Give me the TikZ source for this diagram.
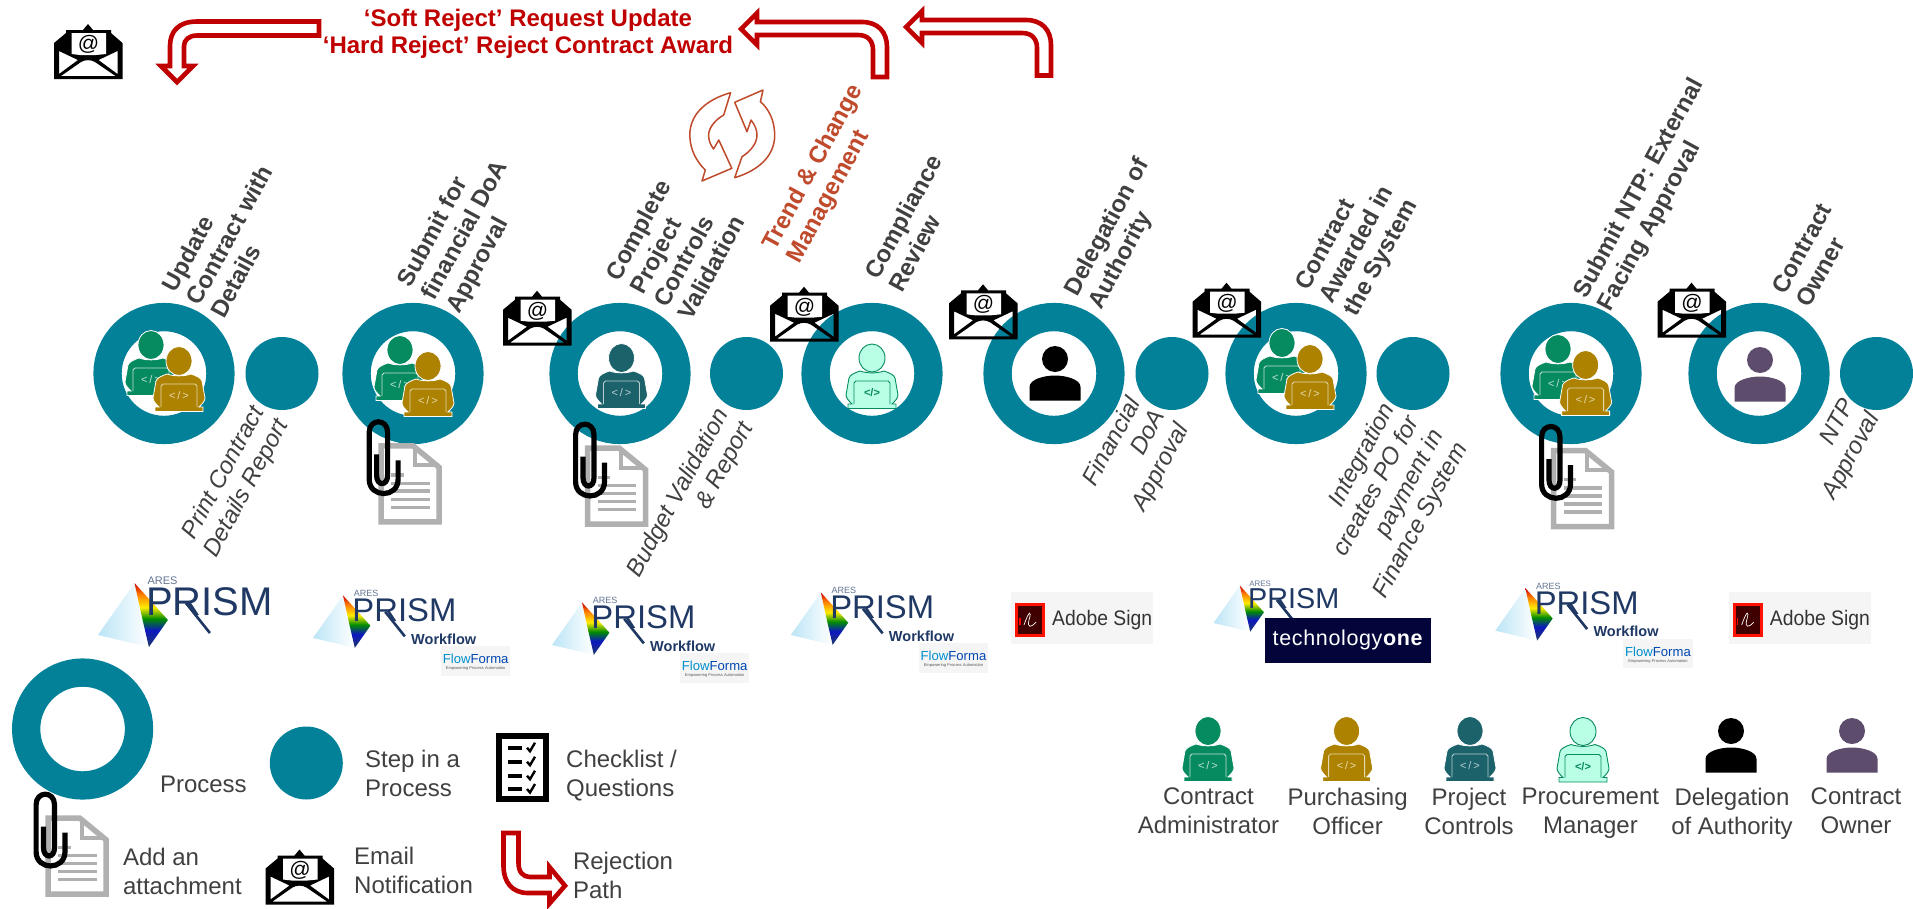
\documentclass[tikz,border=0pt]{standalone}
\usepackage{fontspec}
\setmainfont{Liberation Sans}
\definecolor{ringteal}{HTML}{038199}
\definecolor{pgreen}{HTML}{068A5F}
\definecolor{pgold}{HTML}{AD8200}
\definecolor{pteal}{HTML}{1B626B}
\definecolor{pmint}{HTML}{B9FFE5}
\definecolor{ppurple}{HTML}{5D4C6B}
\definecolor{txtgray}{HTML}{404040}
\definecolor{rejred}{HTML}{C00000}
\definecolor{trendred}{HTML}{BF4A2C}
\definecolor{docgray}{HTML}{B0B0B0}
\definecolor{prismnavy}{HTML}{1F3864}
\definecolor{logobg}{HTML}{F5F5F5}
\definecolor{techblue}{HTML}{02043A}
\definecolor{prismsky}{HTML}{BCE5F6}
\pgfdeclareverticalshading{prismrainbow}{100bp}{color(0bp)=(prismnavy); color(25bp)=(prismnavy); color(38bp)=(blue!60!prismnavy); color(47bp)=(green!55!black); color(56bp)=(yellow!85!orange); color(66bp)=(orange); color(75bp)=(red!80!black); color(100bp)=(red!80!black)}
\tikzset{
  x=1pt,y=-1pt,
  ringnode/.style={circle,draw=ringteal,line width=28.3pt,minimum size=112.9pt,inner sep=0},
  stepnode/.style={circle,fill=ringteal,minimum size=73pt,inner sep=0},
  uplabel/.style={font=\fontsize{24}{27.5}\selectfont\bfseries,text=txtgray,rotate=61.5,inner sep=0,align=left},
  lowlabel/.style={font=\fontsize{24}{27.5}\selectfont\itshape,text=txtgray,rotate=61.5,inner sep=0,align=right},
  legtext/.style={font=\fontsize{24}{29}\selectfont,text=txtgray,inner sep=0,align=left,anchor=west},
  roletext/.style={font=\fontsize{24}{29}\selectfont,text=txtgray,inner sep=0,align=center,anchor=north},
  rejarrow/.style={draw=rejred,line width=4.6pt,fill=white,miter limit=8},
  cyclearrow/.style={draw=trendred,line width=1.5pt,fill=white,line join=round},
  pics/person/.style n args={3}{code={
    \fill[#1,draw=white,line width=.8pt] (-12,13) .. controls (-18,15) and (-22,17) .. (-23,20) -- (-26,37) .. controls (-26,40) and (-23,43) .. (-20,46) -- (-24,46) -- (-24,50.5) -- (24,50.5) -- (24,46) -- (20,46) .. controls (23,43) and (26,40) .. (26,37) -- (23,20) .. controls (22,17) and (18,15) .. (12,13) .. controls (5,15.5) and (-5,15.5) .. (-12,13) -- cycle;
    \draw[#2,line width=.8pt,fill=#1] (-18,46) -- (-18,25) -- (-16,23) -- (16,23) -- (18,25) -- (18,46);
    \fill[#1,draw=white,line width=.8pt] (0,0) ellipse [x radius=13,y radius=14.5];
    \node[#2,inner sep=0,font=\fontsize{11}{11}\selectfont] (-code) at (0,35) {<\,/\,>};
  }},
  pics/mintperson/.style={code={
    \fill[pmint,draw=pgreen,line width=.9pt] (-12,13) .. controls (-18,15) and (-22,17) .. (-23,20) -- (-26,37) .. controls (-26,40) and (-23,43) .. (-20,46) -- (-24,46) -- (-24,50.5) -- (24,50.5) -- (24,46) -- (20,46) .. controls (23,43) and (26,40) .. (26,37) -- (23,20) .. controls (22,17) and (18,15) .. (12,13) .. controls (5,15.5) and (-5,15.5) .. (-12,13) -- cycle;
    \draw[pgreen,line width=.9pt,fill=pmint] (-18,46) -- (-18,25) -- (-16,23) -- (16,23) -- (18,25) -- (18,46);
    \fill[pmint,draw=pgreen,line width=.9pt] (0,0) ellipse [x radius=13,y radius=14];
    \node[pgreen,inner sep=0,font=\fontsize{11}{11}\selectfont\bfseries] (-code) at (0,35) {</>};
  }},
  pics/plainperson/.style={code={
    \fill[#1] (0,0) ellipse [x radius=13,y radius=13];
    \fill[#1] (-25.5,41.5) -- (-25.5,28) .. controls (-25.5,20) and (-10,16.5) .. (0,16.5) .. controls (10,16.5) and (25.5,20) .. (25.5,28) -- (25.5,41.5) -- cycle;
  }},
  pics/envelope/.style={code={
    \fill[black,even odd rule] (0,55) -- (0,19) -- (12,9) -- (12,6) -- (29,6) -- (34,0) -- (39,6) -- (57,6) -- (57,9) -- (68.5,19) -- (68.5,55) -- cycle
      (5,27) -- (5,50) -- (24,36) -- cycle
      (63.5,27) -- (63.5,50) -- (44.5,36) -- cycle
      (7,52) -- (27,38) .. controls (31,35.5) and (37,35.5) .. (41,38) -- (61.5,52) -- cycle;
    \fill[white] (17.5,9) -- (52,9) -- (52,30) -- (42,31) -- (26,31) -- (17.5,30) -- cycle;
    \node[inner sep=0,font=\fontsize{21}{21}\selectfont] (-at) at (34.5,20.5) {@};
  }},
  pics/docsheet/.style={code={
    \draw[docgray,line width=5.5pt,fill=white] (2.5,78.5) -- (2.5,2.5) -- (34.4,2.5) -- (60.5,24) -- (60.5,78.5) -- cycle;
    \draw[docgray,line width=4pt] (36,3) -- (36,22) -- (60,22);
    \draw[docgray,line width=3.5pt] (12.6,31.7) -- (25,31.7) (12.6,40) -- (51,40) (12.6,47.8) -- (51,47.8) (12.6,56) -- (51,56) (12.6,64) -- (51,64);
  }},
  pics/paperclip/.style={code={
    \draw[black,line width=5.2pt] (10,35) -- (10,56) .. controls (10,67) and (21,67) .. (21,56) -- (21,13) .. controls (21,-1) and (2.6,-1) .. (2.6,13) -- (2.6,60) .. controls (2.6,79) and (31.5,79) .. (31.5,60) -- (31.5,41);
  }},
  pics/attachment/.style={code={
    \pic (-doc) at (0,0) {docsheet};
    \pic (-clip) at (-12,-24) {paperclip};
  }},
  pics/prismlogo/.style={code={
    \prismmark
  }},
  pics/workflowlogo/.style={code={
    \prismmark
    \node[text=prismnavy,inner sep=0,transform shape,font=\fontsize{17.7}{18}\selectfont\bfseries] (-wf) at (159.4,1.2) {Workflow};
    \fill[logobg] (156,9.8) rectangle (240.8,45.8);
    \node[inner sep=0,transform shape,font=\fontsize{16}{16}\selectfont] (-ff) at (198.4,25.7) {\textcolor{blue!30!cyan!80!black}{Flow}\textcolor{blue!60!cyan!70!black}{Forma}};
    \node[inner sep=0,transform shape,text=black!65,font=\fontsize{4.9}{5}\selectfont] (-ffs) at (198.4,37.5) {Empowering Process Automation};
  }},
  pics/adobesign/.style={code={
    \fill[logobg] (0,0) rectangle (142,52);
    \fill[red!85!orange] (4,10.5) rectangle (34,45);
    \fill[black!75!red] (7,13.5) rectangle (31,42);
    \draw[white,line width=.7pt] (13,33) .. controls (18,18) and (21,18) .. (18,28) .. controls (16,36) and (20,36) .. (25,30);
    \draw[red,line width=1.2pt] (9,26) -- (9,33);
    \node[inner sep=0,text=black!80,anchor=west,font=\fontsize{21}{21}\selectfont] (-txt) at (41,28) {\addfontfeature{FakeStretch=.92}Adobe Sign};
  }}
}
\newcommand{\prismmark}{%
  \shade[left color=prismsky,right color=white] (0,0) -- (36.6,-52) -- (44.5,-16) -- (51,12) -- cycle;
  \shade[shading=prismrainbow] (36.6,-52) -- (70,-15) -- (51,12) -- (44.5,-16) -- cycle;
  \node[anchor=base,inner sep=0,transform shape,text=prismnavy,font=\fontsize{40}{40}\selectfont] (-prism) at (111.5,-20) {PRISM};
  \draw[prismnavy,line width=2.6pt] (88,-32) -- (112,-2);
  \node[inner sep=0,transform shape,text=prismnavy!70!white,font=\fontsize{11}{11}\selectfont] (-ares) at (64.7,-54) {ARES};
}
\begin{document}
\begin{tikzpicture}
\useasboundingbox (0,0) rectangle (1913,908);
% lower labels
\node[lowlabel] (lo1) at (235,482) {Print Contract\\Details Report};
\node[lowlabel] (lo3) at (691,500) {Budget Validation\\\& Report};
\node[lowlabel] (lo5) at (1137,455) {Financial\\DoA\\Approval};
\node[lowlabel] (lo6) at (1385,501) {Integration\\creates PO for\\payment in\\Finance System};
\node[lowlabel] (lo8) at (1840,450) {NTP\\Approval};
% rings and steps
\node[ringnode] (r1) at (164,373.5) {};
\node[stepnode] (s1) at (282,373.5) {};
\node[ringnode] (r2) at (413,373.5) {};
\node[ringnode] (r3) at (620,373.5) {};
\node[stepnode] (s3) at (746.5,373.5) {};
\node[ringnode] (r4) at (872,373.5) {};
\node[ringnode] (r5) at (1054,373.5) {};
\node[stepnode] (s5) at (1172,373.5) {};
\node[ringnode] (r6) at (1296,373.5) {};
\node[stepnode] (s6) at (1413,373.5) {};
\node[ringnode] (r7) at (1571,373.5) {};
\node[ringnode] (r8) at (1759,373.5) {};
\node[stepnode] (s8) at (1876.5,373.5) {};
% upper labels
\node[uplabel] (up1) at (229,235) {Update\\Contract with\\Details};
\node[uplabel] (up2) at (466,231) {Submit for\\financial DoA\\Approval};
\node[uplabel] (up3) at (675,248) {Complete\\Project\\Controls\\Validation};
\node[uplabel,text=trendred] (up3b) at (826,174) {Trend \& Change\\Management};
\node[uplabel] (up4) at (915,223) {Compliance\\Review};
\node[uplabel] (up5) at (1120,234) {Delegation of\\Authority};
\node[uplabel] (up6) at (1358,245) {Contract\\Awarded in\\the System};
\node[uplabel] (up7) at (1652,195) {Submit NTP: External\\Facing Approval};
\node[uplabel] (up8) at (1814,255) {Contract\\Owner};
% persons in rings
\pic (a1) at (151,345) {person={pgreen}{white!75!pgreen}{}};
\pic (b1) at (179,361) {person={pgold}{white!70!pgold}{}};
\pic (a2) at (400,350) {person={pgreen}{white!75!pgreen}{}};
\pic (b2) at (428,366) {person={pgold}{white!70!pgold}{}};
\pic (c3) at (621.5,358) {person={pteal}{white!70!pteal}{}};
\pic (m4) at (872,358) {mintperson};
\pic (d5) at (1055,359) {plainperson=black};
\pic (a6) at (1282,343) {person={pgreen}{white!75!pgreen}{}};
\pic (b6) at (1310,359) {person={pgold}{white!70!pgold}{}};
\pic (a7) at (1558,349) {person={pgreen}{white!75!pgreen}{}};
\pic (b7) at (1585.6,365) {person={pgold}{white!70!pgold}{}};
\pic (o8) at (1760,360) {plainperson=ppurple};
% attachments
\pic (at2) at (378.6,443.3) {attachment};
\pic (at3) at (585,445.7) {attachment};
\pic (at7) at (1551,448) {attachment};
% envelopes
\pic (e0) at (54,24) {envelope};
\pic (e1) at (503,290.7) {envelope};
\pic (e2) at (770,286.7) {envelope};
\pic (e3) at (949,284.3) {envelope};
\pic (e4) at (1192.5,282.7) {envelope};
\pic (e5) at (1657.5,282.7) {envelope};
% reject arrows
\draw[rejarrow] (319,21.5) -- (197,21.5) .. controls (179,21.5) and (170,31) .. (170,46) -- (170,66) -- (161,66) -- (177,82) -- (193,66) -- (184,66) -- (184,46) .. controls (184,40) and (189,35.5) .. (197,35.5) -- (319,35.5) -- cycle;
\draw[rejarrow] (757,22) -- (862,22) .. controls (878,22) and (887,32) .. (887,47) -- (887,77) -- (873,77) -- (873,50) .. controls (873,41) and (868,35) .. (858,35) -- (757,35) -- (757,45) -- (741,29) -- (757,13) -- cycle;
\draw[rejarrow] (922,20) -- (1026,20) .. controls (1042,20) and (1051,30) .. (1051,45) -- (1051,75.5) -- (1037,75.5) -- (1037,48) .. controls (1037,39) and (1032,33) .. (1022,33) -- (922,33) -- (922,43) -- (906,27) -- (922,11) -- cycle;
\node[inner sep=0,text=rejred,align=center,font=\fontsize{24}{26.5}\selectfont\bfseries] (title) at (528,34) {‘Soft Reject’ Request Update\\‘Hard Reject’ Reject Contract Award};
% cycle symbol
\draw[cyclearrow] (730.6,92.7) .. controls (705,100) and (689.8,115) .. (689.8,135) .. controls (689.8,150) and (697,162) .. (705.3,170) -- (702,181) -- (731.8,168.3) -- (718.8,140) -- (713.5,149) .. controls (710,144) and (708.6,140) .. (708.6,135) .. controls (708.6,128) and (715,120) .. (723.7,115) -- cycle;
\draw[cyclearrow] (734.7,177.7) .. controls (760,170) and (774.7,155) .. (774.7,135) .. controls (774.7,120) and (768,108) .. (760.4,101.7) -- (763,90) -- (734.7,102.3) -- (747,131.7) -- (751,120) .. controls (755,125) and (757,130) .. (757,135) .. controls (757,143) and (751,151) .. (742,156.7) -- cycle;
% logos
\pic (lg1) at (97.9,635) {prismlogo};
\pic[scale=.82] (lg2) at (313,638) {workflowlogo};
\pic[scale=.82] (lg3) at (552,645) {workflowlogo};
\pic[scale=.82] (lg4) at (790.8,635) {workflowlogo};
\pic (ad5) at (1011,592) {adobesign};
\pic[scale=.72] (lg6) at (1213.5,623) {prismlogo};
\fill[techblue] (1264.8,617.7) rectangle (1431,662.7);
\node[inner sep=0,text=white,font=\fontsize{21.5}{21.5}\selectfont] (tech) at (1348,640) {\addfontfeature{LetterSpace=3}technology\textbf{one}};
\pic[scale=.82] (lg7) at (1495.3,630.7) {workflowlogo};
\pic (ad8) at (1728.7,592) {adobesign};
% legend left
\node[ringnode] (legr) at (82.6,729) {};
\node[legtext] (legrt) at (159.8,784) {Process};
\node[stepnode] (legs) at (306.3,763) {};
\node[legtext] (legst) at (365,773) {Step in a\\Process};
\draw[black,line width=6pt,fill=white] (499.4,736.3) rectangle (546,799.3);
\foreach \ry in {747.7,761.7,775.7,789}{
  \fill[black] (508,\ry-2) rectangle (522,\ry+2);
  \draw[black,line width=2.4pt] (527,\ry) -- (530,\ry+3.5) -- (535,\ry-5);
}
\node[legtext] (legct) at (566,776) {Checklist /\\Questions};
\pic (legat) at (45.5,815.7) {attachment};
\node[legtext] (legatt) at (122.8,871.7) {Add an\\attachment};
\pic (lege) at (265.5,849.5) {envelope};
\node[legtext] (leget) at (354,870.7) {Email\\Notification};
\draw[rejarrow] (503.5,833) -- (518.5,833) -- (518.5,863) .. controls (518.5,872) and (523,877) .. (530,877) -- (549.5,877) -- (549.5,867) -- (565,885.7) -- (549.5,903.5) -- (549.5,893) -- (528,893) .. controls (512,893) and (503.5,882) .. (503.5,866) -- cycle;
\node[legtext] (legrj) at (572.8,875) {Rejection\\Path};
% legend roles
\pic (la) at (1208,731) {person={pgreen}{white!75!pgreen}{}};
\pic (lb) at (1346.6,731) {person={pgold}{white!70!pgold}{}};
\pic (lc) at (1470,731) {person={pteal}{white!70!pteal}{}};
\pic (lm) at (1583,731.5) {mintperson};
\pic (ld) at (1731,731) {plainperson=black};
\pic (lo) at (1852,731) {plainperson=ppurple};
\node[roletext] (ra) at (1208.5,788) {Contract\\Administrator};
\node[roletext] (rb) at (1347.6,788) {Purchasing\\Officer};
\node[roletext] (rc) at (1469,788) {Project\\Controls};
\node[roletext] (rm) at (1590.4,788) {Procurement\\Manager};
\node[roletext] (rd) at (1732,788) {Delegation\\of Authority};
\node[roletext] (ro) at (1856,788) {Contract\\Owner};
\end{tikzpicture}
\end{document}
